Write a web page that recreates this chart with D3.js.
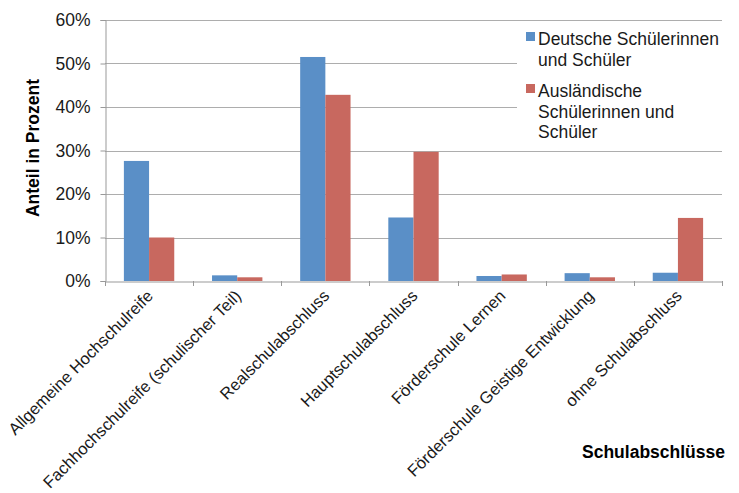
<!DOCTYPE html>
<html>
<head>
<meta charset="utf-8">
<script src="https://cdn.jsdelivr.net/npm/d3@7"></script>
<style>
  html, body { margin: 0; padding: 0; background: #fff; }
  svg { display: block; font-family: "Liberation Sans", Arial, sans-serif; }
</style>
</head>
<body>
<svg id="chart" width="739" height="493"></svg>
<script>
const categories = [
  "Allgemeine Hochschulreife",
  "Fachhochschulreife (schulischer Teil)",
  "Realschulabschluss",
  "Hauptschulabschluss",
  "Förderschule Lernen",
  "Förderschule Geistige Entwicklung",
  "ohne Schulabschluss"
];
const seriesNames = ["Deutsche Schülerinnen und Schüler", "Ausländische Schülerinnen und Schüler"];
const deutsche = [27.6, 1.3, 51.5, 14.6, 1.15, 1.8, 1.9];
const auslaendische = [10.0, 0.85, 42.8, 29.7, 1.5, 0.85, 14.5];
const yTicks = [0, 10, 20, 30, 40, 50, 60];
const colors = ["#5A8FC7", "#C8685F"];
const legendLines = [["Deutsche Schülerinnen", "und Schüler"], ["Ausländische", "Schülerinnen und", "Schüler"]];

const svg = d3.select("#chart");
const mLeft = 105, mRight = 722, mTop = 20, mBottom = 281;

const x0 = d3.scaleBand().domain(categories).range([mLeft, mRight]).paddingInner(0).paddingOuter(0);
const bw = x0.bandwidth();
const barW = bw / 3.5;
const x1s = d3.scaleBand().domain([0, 1]).range([(bw - 2 * barW) / 2, (bw + 2 * barW) / 2]);

const y = d3.scaleLinear().domain([0, 60]).range([mBottom, mTop]);

// gridlines
svg.append("g").selectAll("line").data(yTicks.filter(t => t > 0)).join("line")
  .attr("x1", mLeft).attr("x2", mRight)
  .attr("y1", d => Math.round(y(d)) + 0.5).attr("y2", d => Math.round(y(d)) + 0.5)
  .attr("stroke", "#ADADAD").attr("stroke-width", 1.2);

// bars
const data = categories.map((c, i) => ({ c, vals: [deutsche[i], auslaendische[i]] }));
const groups = svg.append("g").selectAll("g").data(data).join("g")
  .attr("transform", d => `translate(${x0(d.c)},0)`);
groups.selectAll("rect").data(d => d.vals.map((v, k) => ({ v, k }))).join("rect")
  .attr("x", d => x1s(d.k))
  .attr("width", x1s.bandwidth())
  .attr("y", d => y(d.v))
  .attr("height", d => y(0) - y(d.v))
  .attr("fill", d => colors[d.k]);

// legend (white box covering gridlines)
const lg = svg.append("g");
lg.append("rect").attr("x", 517).attr("y", 24).attr("width", 205).attr("height", 122).attr("fill", "#fff");
let ly = 45;
legendLines.forEach((lines, k) => {
  lg.append("rect").attr("x", 526).attr("y", ly - 13).attr("width", 9).attr("height", 9).attr("fill", colors[k]);
  lines.forEach((t, j) => {
    lg.append("text").attr("x", 538).attr("y", ly + j * 20.5).attr("font-size", 17.5).attr("fill", "#1a1a1a").text(t);
  });
  ly += lines.length * 20.5 + 11;
});

// y axis
const yAxis = d3.axisLeft(y).tickValues(yTicks).tickFormat(d => d + "%").tickSize(5).tickPadding(10);
const ya = svg.append("g").attr("transform", `translate(${mLeft + 0.5},0)`).call(yAxis);
ya.select(".domain").attr("stroke", "#999");
ya.selectAll(".tick line").attr("stroke", "#999");
ya.selectAll(".tick text").attr("font-size", 17.5).attr("fill", "#1a1a1a").attr("font-family", "Liberation Sans, Arial, sans-serif");

// x axis
const xAxis = d3.axisBottom(x0).tickSize(0).tickFormat("");
const xa = svg.append("g").attr("transform", `translate(0,${mBottom + 0.5})`).call(xAxis);
xa.select(".domain").attr("stroke", "#999");
const bounds = categories.map(c => x0(c)).concat([mRight]);
svg.append("g").selectAll("line").data(bounds).join("line")
  .attr("x1", d => Math.round(d) + 0.5).attr("x2", d => Math.round(d) + 0.5)
  .attr("y1", mBottom).attr("y2", mBottom + 5).attr("stroke", "#999");

// category labels rotated
svg.append("g").selectAll("text").data(categories).join("text")
  .attr("transform", d => `translate(${x0(d) + bw / 2 + 5},${mBottom + 16}) rotate(-45)`)
  .attr("text-anchor", "end")
  .attr("font-size", 16.6)
  .attr("fill", "#1a1a1a")
  .text(d => d);

// axis titles
svg.append("text").attr("transform", "translate(39,148) rotate(-90)")
  .attr("text-anchor", "middle").attr("font-size", 17.5).attr("font-weight", "bold").attr("fill", "#000")
  .text("Anteil in Prozent");
svg.append("text").attr("x", 725).attr("y", 458).attr("text-anchor", "end")
  .attr("font-size", 17.5).attr("font-weight", "bold").attr("fill", "#000")
  .text("Schulabschlüsse");
</script>
</body>
</html>
